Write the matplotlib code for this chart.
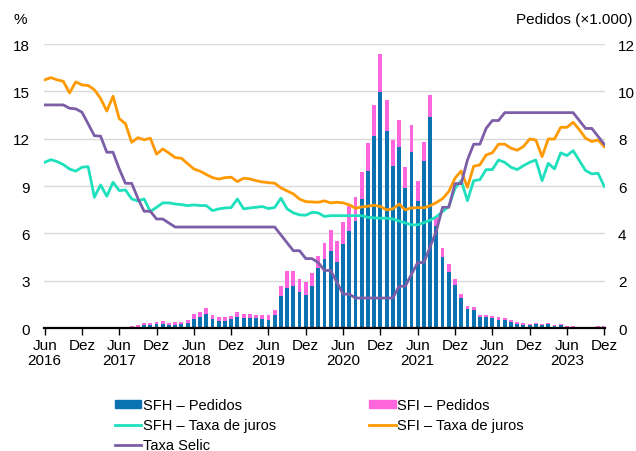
import numpy as np
import pandas as pd
import matplotlib
matplotlib.use("Agg")
import matplotlib.pyplot as plt
from matplotlib.patches import Patch
from matplotlib.lines import Line2D

plt.rcParams["font.family"] = ["Liberation Sans", "DejaVu Sans"]

months = pd.date_range("2016-06-01", "2023-12-01", freq="MS")

# Pedidos (x1.000), from Jun 2016 to Dez 2023
sfh_pedidos = [
    0, 0, 0, 0, 0, 0, 0, 0, 0, 0, 0, 0, 0, 0,
    0.04, 0.06, 0.13, 0.14, 0.15, 0.18, 0.13, 0.14, 0.17, 0.23,
    0.40, 0.45, 0.61, 0.38, 0.31, 0.31, 0.38, 0.48, 0.41, 0.41,
    0.41, 0.38, 0.35, 0.56, 1.34, 1.68, 1.79, 1.54, 1.39, 1.79,
    2.55, 2.92, 3.27, 2.80, 3.55, 4.11, 4.54, 5.45, 6.65, 8.10,
    9.99, 8.34, 6.86, 7.66, 5.92, 7.45, 5.38, 7.07, 8.90, 4.30,
    3.01, 2.38, 1.83, 1.25, 0.80, 0.76, 0.45, 0.45, 0.41, 0.35,
    0.34, 0.27, 0.17, 0.14, 0.13, 0.15, 0.13, 0.18, 0.08, 0.13,
    0.06, 0.05, 0.04, 0.04, 0.04, 0.06, 0.06,
]
sfi_pedidos = [
    0, 0, 0, 0, 0, 0, 0, 0, 0, 0, 0, 0, 0, 0,
    0.03, 0.07, 0.08, 0.07, 0.09, 0.12, 0.08, 0.10, 0.10, 0.09,
    0.20, 0.21, 0.23, 0.17, 0.17, 0.16, 0.12, 0.19, 0.18, 0.18,
    0.15, 0.18, 0.21, 0.20, 0.42, 0.71, 0.62, 0.53, 0.54, 0.52,
    0.48, 0.67, 0.88, 0.86, 0.91, 1.03, 0.98, 1.13, 1.17, 1.32,
    1.59, 1.31, 1.10, 1.13, 0.87, 1.13, 0.83, 0.78, 0.95, 0.38,
    0.37, 0.32, 0.24, 0.17, 0.13, 0.14, 0.10, 0.10, 0.08, 0.10,
    0.08, 0.05, 0.08, 0.06, 0.04, 0.05, 0.04, 0.05, 0.03, 0.04,
    0.02, 0.02, 0.02, 0.02, 0.02, 0.02, 0.02,
]

# taxas (% a.a.)
sfh_taxa = [
    10.50, 10.67, 10.55, 10.36, 10.08, 9.94, 10.19, 10.23, 8.29, 9.07,
    8.35, 9.24, 8.71, 8.75, 8.18, 8.05, 8.18, 7.38, 7.65, 7.93,
    7.93, 7.86, 7.82, 7.76, 7.80, 7.76, 7.76, 7.44, 7.55, 7.61,
    7.63, 8.18, 7.55, 7.61, 7.65, 7.70, 7.57, 7.64, 8.23, 7.55,
    7.30, 7.17, 7.15, 7.33, 7.30, 7.07, 7.12, 7.12, 7.12, 7.12,
    7.12, 7.12, 7.02, 6.98, 6.96, 6.96, 6.91, 6.78, 6.66, 6.54,
    6.54, 6.68, 6.83, 7.05, 7.38, 7.70, 8.85, 9.35, 8.07, 9.34,
    9.40, 10.04, 10.04, 10.65, 10.50, 10.19, 10.04, 10.29, 10.50, 10.65,
    9.34, 10.44, 10.08, 11.10, 10.93, 11.24, 10.61, 9.98, 9.77, 9.81,
    8.98,
]
sfi_taxa = [
    15.73, 15.87, 15.73, 15.64, 14.90, 15.60, 15.41, 15.37, 15.10, 14.55,
    13.75, 14.69, 13.27, 12.95, 11.77, 12.06, 11.93, 12.03, 11.02, 11.35,
    11.09, 10.80, 10.76, 10.42, 10.08, 9.94, 9.73, 9.53, 9.44, 9.53,
    9.56, 9.28, 9.49, 9.45, 9.34, 9.26, 9.21, 9.18, 8.88, 8.69,
    8.50, 8.17, 8.01, 7.99, 7.97, 8.06, 7.93, 7.97, 7.93, 7.81,
    7.59, 7.67, 7.72, 7.78, 7.70, 7.49, 7.55, 7.85, 7.49, 7.61,
    7.63, 7.62, 7.75, 7.95, 8.20, 8.65, 9.50, 9.95, 8.92, 10.25,
    10.34, 10.97, 11.10, 11.65, 11.65, 11.40, 11.27, 11.50, 11.98, 11.92,
    10.86, 11.98, 11.98, 12.72, 12.72, 13.04, 12.57, 12.03, 11.82, 11.92,
    11.50,
]
selic = [
    14.14, 14.14, 14.14, 14.14, 13.93, 13.89, 13.68, 12.94, 12.19, 12.16,
    11.14, 11.14, 10.08, 9.17, 9.17, 8.22, 7.40, 7.40, 6.91, 6.91,
    6.65, 6.40, 6.40, 6.40, 6.40, 6.40, 6.40, 6.40, 6.40, 6.40,
    6.40, 6.40, 6.40, 6.40, 6.40, 6.40, 6.40, 6.40, 5.90, 5.40,
    4.90, 4.90, 4.40, 4.40, 4.15, 3.65, 3.65, 2.90, 2.15, 2.15,
    1.90, 1.90, 1.90, 1.90, 1.90, 1.90, 1.90, 2.65, 2.65, 3.40,
    4.15, 4.15, 5.15, 6.15, 7.65, 7.65, 9.15, 9.15, 10.65, 11.65,
    11.65, 12.65, 13.15, 13.15, 13.65, 13.65, 13.65, 13.65, 13.65, 13.65,
    13.65, 13.65, 13.65, 13.65, 13.65, 13.65, 13.15, 12.65, 12.65, 12.15,
    11.65,
]

c_sfh = "#0a72b0"
c_sfi = "#ff66dd"
c_sfh_taxa = "#1ee0bd"
c_sfi_taxa = "#ff9900"
c_selic = "#7b5ea7"

x = np.arange(len(months))

fig = plt.figure(figsize=(6.36, 4.52), dpi=100)
ax = fig.add_axes([0.0692, 0.2721, 0.8828, 0.6283])
ax2 = ax.twinx()

# bars on the right axis, below the lines
ax2.bar(x, sfh_pedidos, width=0.62, color=c_sfh, zorder=2)
ax2.bar(x, sfi_pedidos, width=0.62, bottom=sfh_pedidos, color=c_sfi, zorder=2)
ax2.set_ylim(0, 12)
ax2.set_yticks(range(0, 13, 2))
ax2.yaxis.grid(True, color="#d9d9d9", lw=1)
ax2.set_axisbelow(True)

ax.set_zorder(ax2.get_zorder() + 1)
ax.patch.set_visible(False)
ax.plot(x, sfh_taxa, color=c_sfh_taxa, lw=2)
ax.plot(x, sfi_taxa, color=c_sfi_taxa, lw=2)
ax.plot(x, selic, color=c_selic, lw=2)
ax.set_ylim(0, 18)
ax.set_yticks(range(0, 19, 3))
ax.set_xlim(-0.1, 90.2)

ticks = list(range(0, len(months), 6))
labels = []
for i in ticks:
    d = months[i]
    labels.append(f"Jun\n{d.year}" if d.month == 6 else "Dez")
ax.set_xticks(ticks)
ax.set_xticklabels(labels, fontsize=11, linespacing=1.15)

for a in (ax, ax2):
    for s in a.spines.values():
        s.set_visible(False)
ax.spines["bottom"].set_visible(True)
ax.spines["bottom"].set_color("black")
ax.spines["bottom"].set_linewidth(1.6)

ax.tick_params(axis="x", length=5, width=1, color="black", pad=2)
ax.tick_params(axis="y", length=0, pad=10, labelsize=11)
ax2.tick_params(axis="y", length=0, pad=9, labelsize=11)

fig.text(14 / 636, 1 - 20 / 452, "%", fontsize=11, ha="left", va="center")
fig.text(632 / 636, 1 - 20 / 452, "Pedidos (×1.000)", fontsize=11,
         ha="right", va="center")

handles = [
    Patch(color=c_sfh),
    Line2D([], [], color=c_sfh_taxa, lw=2),
    Line2D([], [], color=c_selic, lw=2),
    Patch(color=c_sfi),
    Line2D([], [], color=c_sfi_taxa, lw=2),
]
names = [
    "SFH – Pedidos",
    "SFH – Taxa de juros",
    "Taxa Selic",
    "SFI – Pedidos",
    "SFI – Taxa de juros",
]
fig.legend(handles, names, ncol=2, loc="upper left",
           bbox_to_anchor=(105 / 636, 1 - 389 / 452), frameon=False,
           fontsize=10.5, handlelength=1.8, handleheight=0.5,
           handletextpad=0.1, columnspacing=6.4, labelspacing=0.42,
           borderpad=0.2)

fig.savefig("out.png", dpi=100)
